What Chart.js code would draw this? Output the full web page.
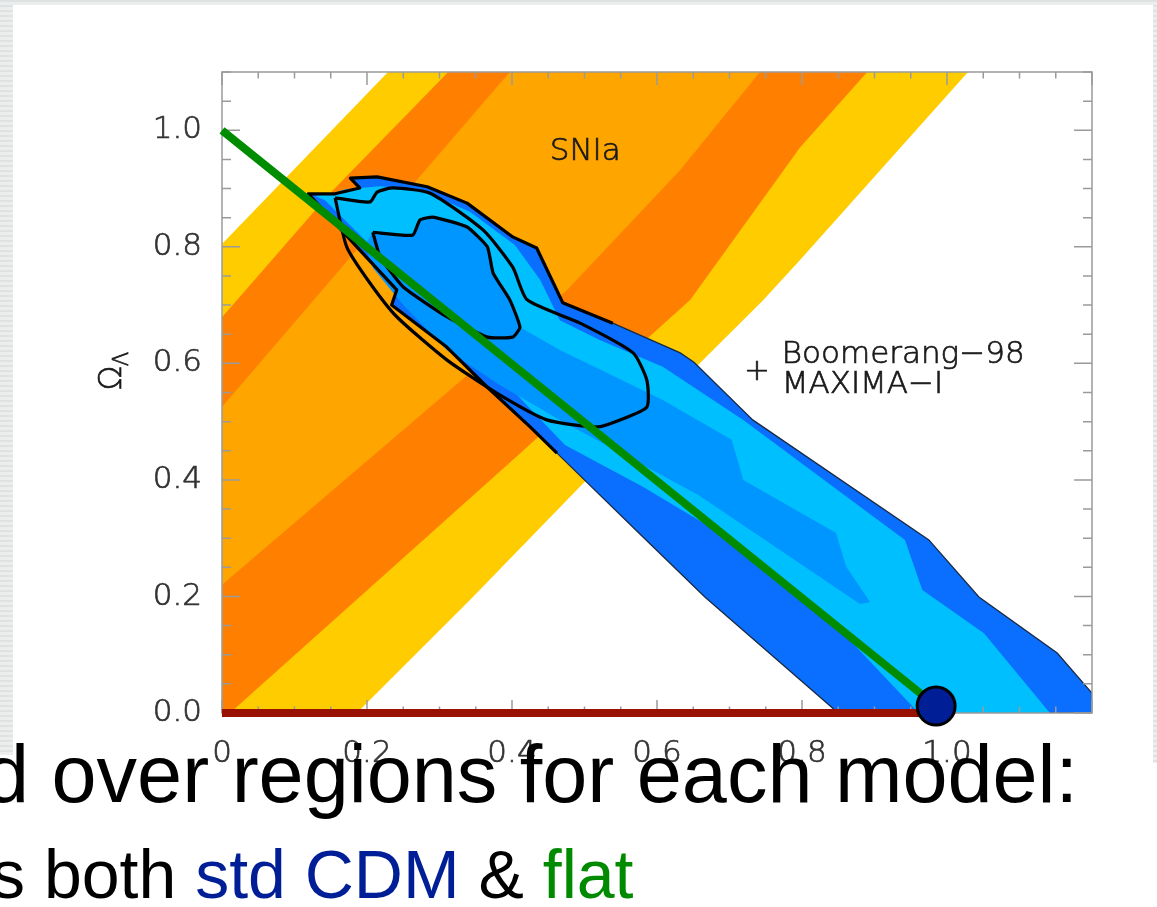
<!DOCTYPE html>
<html>
<head>
<meta charset="utf-8">
<script src="https://cdn.jsdelivr.net/npm/chart.js@4.4.1/dist/chart.umd.min.js"></script>
<style>
  body { margin: 0; background: #fff; width: 1157px; height: 907px; overflow: hidden; position: relative; font-family: "Liberation Sans", Arial, sans-serif; }
  .faixa { position: absolute; background: repeating-linear-gradient(to bottom, #dfe2e2 0px, #dfe2e2 2px, #eceeee 2px, #eceeee 5px); }
  #wrap { position: absolute; left: 0; top: 0; width: 1157px; height: 907px; }
  .linha { position: absolute; white-space: nowrap; color: #000; line-height: 1; }
</style>
</head>
<body>
<div class="faixa" style="left:0;top:0;width:13px;height:755px"></div>
<div class="faixa" style="left:0;top:0;width:1157px;height:5px"></div>
<div class="faixa" style="left:1153px;top:0;width:4px;height:763px"></div>
<div id="wrap"><canvas id="grafico" width="1157" height="907"></canvas></div>
<div class="linha" style="left:-16px;top:734px;font-size:81px">d over regions for each model:</div>
<div class="linha" style="left:-9px;top:840px;font-size:68px">s both <span style="color:#001e96">std CDM</span> &amp; <span style="color:#008a00">flat</span></div>

<script>
// Eixos (Omega_M horizontal, Omega_Lambda vertical)
const xMin = 0, xMax = 1.2;
const yMin = 0, yMax = 1.1;
const xLabels = ["0", "0.2", "0.4", "0.6", "0.8", "1.0"];
const yLabels = ["0.0", "0.2", "0.4", "0.6", "0.8", "1.0"];

// SNIa - faixas de confiança
const snAmarelo = [[0,0],[0,0.805],[0.229,1.1],[1.029,1.1],[0.797,0.777],[0.746,0.708],[0.659,0.600],[0.342,0.194],[0.186,0]];
const snLaranjaEsc = [[0,0],[0,0.679],[0.149,0.892],[0.312,1.1],[0.890,1.1],[0.797,0.970],[0.646,0.709],[0.401,0.434],[0.011,0]];
const snLaranja = [[0,0.525],[0.186,0.795],[0.397,1.1],[0.742,1.1],[0.632,0.932],[0.476,0.726],[0,0.22]];

// Boomerang-98 + MAXIMA-I
const cmbExterno = [[0.119,0.891],[0.156,0.891],[0.190,0.901],[0.177,0.918],[0.214,0.920],[0.283,0.903],[0.338,0.875],[0.401,0.817],[0.434,0.798],[0.470,0.704],[0.539,0.669],[0.632,0.618],[0.651,0.602],[0.732,0.503],[0.975,0.297],[1.044,0.199],[1.152,0.103],[1.2,0.034],[1.2,0],[0.850,0],[0.666,0.199],[0.575,0.309],[0.462,0.446],[0.425,0.491],[0.366,0.559],[0.310,0.628],[0.234,0.700],[0.241,0.726],[0.186,0.800],[0.119,0.891]];
const cmbMedio = [[0.128,0.887],[0.153,0.892],[0.170,0.899],[0.218,0.904],[0.273,0.898],[0.342,0.860],[0.404,0.803],[0.439,0.743],[0.466,0.674],[0.521,0.640],[0.608,0.594],[0.719,0.503],[0.942,0.297],[0.966,0.211],[1.051,0.137],[1.142,0],[0.961,0],[0.857,0.137],[0.703,0.297],[0.581,0.388],[0.473,0.460],[0.390,0.568],[0.326,0.644],[0.259,0.721],[0.201,0.807],[0.142,0.880]];
const cmbInterno = [[0.208,0.825],[0.263,0.820],[0.273,0.846],[0.291,0.851],[0.338,0.834],[0.366,0.800],[0.374,0.755],[0.397,0.709],[0.411,0.662],[0.466,0.623],[0.608,0.537],[0.703,0.469],[0.719,0.400],[0.847,0.309],[0.861,0.251],[0.894,0.190],[0.880,0.187],[0.657,0.374],[0.466,0.503],[0.383,0.563],[0.310,0.623],[0.250,0.700],[0.208,0.764],[0.197,0.803]];

// Contornos combinados (linhas pretas)
const contornoMedio = [[0.156,0.884],[0.204,0.877],[0.214,0.894],[0.236,0.901],[0.287,0.892],[0.360,0.829],[0.401,0.765],[0.421,0.709],[0.494,0.669],[0.567,0.618],[0.586,0.571],[0.586,0.525],[0.549,0.503],[0.517,0.491],[0.448,0.503],[0.379,0.549],[0.310,0.606],[0.241,0.680],[0.204,0.738],[0.172,0.800],[0.156,0.884]];
const contornoInterno = [[0.208,0.825],[0.263,0.820],[0.273,0.846],[0.291,0.851],[0.338,0.834],[0.366,0.800],[0.374,0.755],[0.397,0.709],[0.411,0.662],[0.401,0.645],[0.366,0.645],[0.310,0.680],[0.250,0.731],[0.218,0.783],[0.208,0.825]];
const contornoBorda = [[0.462,0.446],[0.425,0.491],[0.366,0.559],[0.310,0.628],[0.234,0.700],[0.241,0.726],[0.186,0.800],[0.119,0.891],[0.156,0.891],[0.190,0.901],[0.177,0.918],[0.214,0.920],[0.283,0.903],[0.338,0.875],[0.401,0.817],[0.434,0.798],[0.470,0.704],[0.539,0.669]];

// Modelos
const linhaPlana = [[0,1.0],[0.985,0.012]];
const linhaAberta = [[0,0],[0.985,0]];
const stdCDM = [[0.985,0.012]];

const pts = arr => arr.map(p => ({ x: p[0], y: p[1] }));

function poligono(label, arr, cor, borda, largura, ordem) {
  return {
    label: label, data: pts(arr), showLine: true, fill: 'shape',
    backgroundColor: cor, borderColor: borda, borderWidth: largura,
    pointRadius: 0, tension: 0, order: ordem
  };
}
function linha(label, arr, cor, largura, ordem, curva) {
  return {
    label: label, data: pts(arr), showLine: true, fill: false,
    borderColor: cor, borderWidth: largura, pointRadius: 0, tension: curva || 0,
    order: ordem, clip: false, borderJoinStyle: 'round'
  };
}

const fonteEixo = '"DejaVu Sans", sans-serif';

// texto fino com um contorno leve para engrossar
function texto(ctx, s, x, y) {
  ctx.fillText(s, x, y);
  ctx.strokeText(s, x, y);
}

// Moldura e marcas internas (estilo IDL)
const moldura = {
  id: 'moldura',
  afterDatasetDraw(chart, args) {
    if (args.meta.label !== 'borda') return;
    const ctx = chart.ctx, a = chart.chartArea;
    const sx = chart.scales.x, sy = chart.scales.y;
    ctx.save();
    ctx.strokeStyle = '#9a9a9a';
    ctx.lineWidth = 1.5;
    ctx.strokeRect(a.left, a.top, a.right - a.left, a.bottom - a.top);
    ctx.beginPath();
    sx.ticks.forEach(t => {
      const px = sx.getPixelForValue(t.value);
      const maior = Math.abs(t.value * 5 - Math.round(t.value * 5)) < 1e-6;
      const len = maior ? 13 : 6.5;
      ctx.moveTo(px, a.bottom); ctx.lineTo(px, a.bottom - len);
      ctx.moveTo(px, a.top); ctx.lineTo(px, a.top + len);
    });
    sy.ticks.forEach(t => {
      const py = sy.getPixelForValue(t.value);
      const maior = Math.abs(t.value * 5 - Math.round(t.value * 5)) < 1e-6;
      const len = maior ? 18 : 9;
      ctx.moveTo(a.left, py); ctx.lineTo(a.left + len, py);
      ctx.moveTo(a.right, py); ctx.lineTo(a.right - len, py);
    });
    ctx.stroke();
    ctx.restore();
  },
  afterDraw(chart) {
    const ctx = chart.ctx;
    const sx = chart.scales.x, sy = chart.scales.y;
    ctx.save();
    ctx.fillStyle = '#1a1a1a';
    ctx.strokeStyle = '#1a1a1a';
    ctx.lineWidth = 0.7;
    ctx.font = '200 31px ' + fonteEixo;
    ctx.textAlign = 'left';
    ctx.textBaseline = 'alphabetic';
    texto(ctx, 'SNIa', sx.getPixelForValue(0.452), sy.getPixelForValue(0.949));
    texto(ctx, 'Boomerang\u221298', sx.getPixelForValue(0.772), sy.getPixelForValue(0.601));
    texto(ctx, 'MAXIMA\u2212I', sx.getPixelForValue(0.772), sy.getPixelForValue(0.549));
    ctx.textAlign = 'center';
    ctx.textBaseline = 'middle';
    texto(ctx, '+', sx.getPixelForValue(0.738), sy.getPixelForValue(0.585));
    // titulo do eixo y: Omega_Lambda
    ctx.translate(113, 378);
    ctx.rotate(-Math.PI / 2);
    ctx.font = '200 32px ' + fonteEixo;
    texto(ctx, '\u03A9', 0, 0);
    ctx.font = '200 21px ' + fonteEixo;
    texto(ctx, '\u039B', 19, 10);
    ctx.restore();
  }
};

const fonteTick = { family: fonteEixo, size: 31, weight: '200' };

const ctx = document.getElementById('grafico').getContext('2d');
new Chart(ctx, {
  type: 'scatter',
  data: {
    datasets: [
      poligono('amarelo', snAmarelo, '#ffcc00', 'rgba(0,0,0,0)', 0, 12),
      poligono('laranjaEsc', snLaranjaEsc, '#ff8000', 'rgba(0,0,0,0)', 0, 11),
      poligono('laranja', snLaranja, '#ffa500', 'rgba(0,0,0,0)', 0, 10),
      poligono('cmbExterno', cmbExterno, '#0a6eff', '#1a2a40', 1.3, 9),
      poligono('cmbMedio', cmbMedio, '#00bfff', 'rgba(0,0,0,0)', 0, 8),
      poligono('cmbInterno', cmbInterno, '#0096ff', 'rgba(0,0,0,0)', 0, 7),
      linha('contornoMedio', contornoMedio, '#000', 3.2, 6, 0.2),
      linha('contornoInterno', contornoInterno, '#000', 3.2, 5, 0.15),
      linha('borda', contornoBorda, '#000', 3.2, 4),
      linha('aberto', linhaAberta, '#991100', 8, 3),
      linha('plano', linhaPlana, '#008c00', 8, 2),
      {
        label: 'stdCDM', data: pts(stdCDM), showLine: false, order: 1, clip: false,
        pointRadius: 19, pointBackgroundColor: '#001e96', pointBorderColor: '#000', pointBorderWidth: 3
      }
    ]
  },
  options: {
    responsive: false,
    animation: false,
    devicePixelRatio: 1,
    layout: { padding: { left: 122, right: 65, top: 72, bottom: 144 } },
    plugins: { legend: { display: false }, tooltip: { enabled: false } },
    scales: {
      x: {
        type: 'linear', min: xMin, max: xMax,
        grid: { display: false }, border: { display: false },
        afterFit: s => { s.height = 50; },
        ticks: {
          stepSize: 0.05, autoSkip: false, maxRotation: 0, padding: 14,
          color: '#333', textStrokeColor: '#333', textStrokeWidth: 0.7, font: fonteTick,
          callback: v => {
            const i = Math.round(v * 5);
            return Math.abs(v * 5 - i) < 1e-6 && xLabels[i] !== undefined ? xLabels[i] : '';
          }
        }
      },
      y: {
        type: 'linear', min: yMin, max: yMax,
        grid: { display: false }, border: { display: false },
        afterFit: s => { s.width = 100; },
        ticks: {
          stepSize: 0.05, autoSkip: false, padding: 12,
          color: '#333', textStrokeColor: '#333', textStrokeWidth: 0.7, font: fonteTick,
          callback: v => {
            const i = Math.round(v * 5);
            return Math.abs(v * 5 - i) < 1e-6 && yLabels[i] !== undefined ? yLabels[i] : '';
          }
        }
      }
    }
  },
  plugins: [moldura]
});
</script>
</body>
</html>
